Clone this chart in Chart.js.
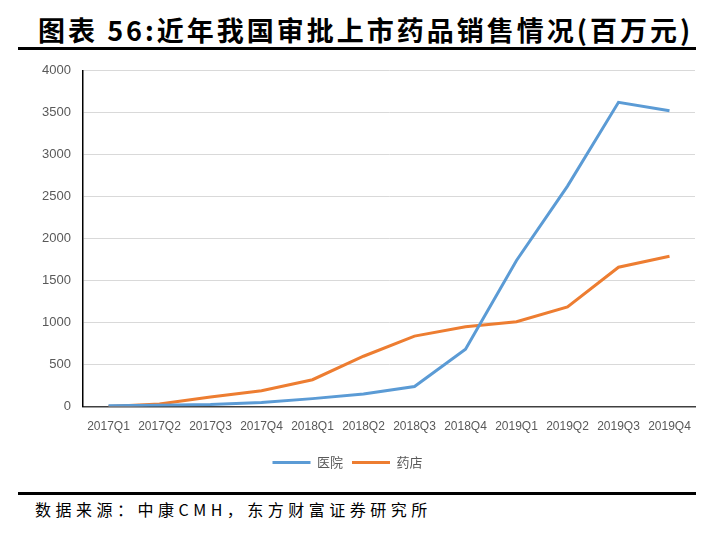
<!DOCTYPE html>
<html><head><meta charset="utf-8">
<script src="https://cdn.jsdelivr.net/npm/chart.js@4"></script>
<style>
html,body{margin:0;padding:0;background:#fff;}
#page{position:relative;width:715px;height:540px;overflow:hidden;}
#title{position:absolute;left:38px;top:10px;font-family:"Noto Sans CJK SC";font-weight:bold;font-size:27px;line-height:40px;color:#000;white-space:nowrap;letter-spacing:3px;}
.rule{position:absolute;left:18px;width:678px;height:3px;background:#000;}
#src{position:absolute;left:35px;top:497px;font-family:"Noto Sans CJK SC";font-size:16px;line-height:24px;color:#000;white-space:nowrap;letter-spacing:4.5px;}
#wrap{position:absolute;left:0;top:51px;width:715px;height:429px;}
</style></head>
<body><div id="page">
<div id="title">图表 56:近年我国审批上市药品销售情况(百万元)</div>
<div class="rule" style="top:47px"></div>
<div id="wrap"><canvas id="c"></canvas></div>
<div class="rule" style="top:492px"></div>
<div id="src">数据来源：中康CMH，东方财富证券研究所</div>
</div>
<script>
const categories=["2017Q1","2017Q2","2017Q3","2017Q4","2018Q1","2018Q2","2018Q3","2018Q4","2019Q1","2019Q2","2019Q3","2019Q4"];
const hospital=[10,15,25,50,95,150,240,683,1740,2627,3625,3523];
const pharmacy=[0,30,115,190,320,600,840,950,1010,1187,1660,1791];
const yTicks=[0,500,1000,1500,2000,2500,3000,3500,4000];

new Chart(document.getElementById('c'),{
 type:'line',
 data:{labels:categories,datasets:[
  {label:'医院',data:hospital,borderColor:'#5B9BD5',backgroundColor:'#5B9BD5',borderWidth:3,pointRadius:0,tension:0},
  {label:'药店',data:pharmacy,borderColor:'#ED7D31',backgroundColor:'#ED7D31',borderWidth:3,pointRadius:0,tension:0}
 ]},
 options:{
  responsive:true,maintainAspectRatio:false,animation:false,
  layout:{padding:{left:0,right:20,top:1,bottom:1}},
  plugins:{
   legend:{position:'bottom',labels:{boxWidth:38,boxHeight:3,color:'#595959',font:{family:'Noto Sans CJK SC',size:13},padding:9,
     generateLabels(chart){return chart.data.datasets.map((d,i)=>({text:d.label,fillStyle:d.borderColor,strokeStyle:d.borderColor,lineWidth:0,datasetIndex:i,fontColor:'#595959'}));}}},
   tooltip:{enabled:false}
  },
  scales:{
   x:{offset:true,grid:{display:false,drawTicks:false},border:{color:'#404040',width:1.5},
      ticks:{color:'#595959',font:{family:'Liberation Sans Narrow, Arial',size:12},padding:13,maxRotation:0,autoSkip:false}},
   y:{min:0,max:4000,afterBuildTicks(a){a.ticks=yTicks.map(v=>({value:v}));},
      afterFit(a){a.width=83;},
      grid:{color:'#d9d9d9',drawTicks:false},border:{color:'#000',width:1.5},
      ticks:{color:'#595959',font:{family:'Liberation Sans, Arial',size:13},padding:12,callback:v=>String(v)}}
  }
 }
});
</script>
</body></html>
